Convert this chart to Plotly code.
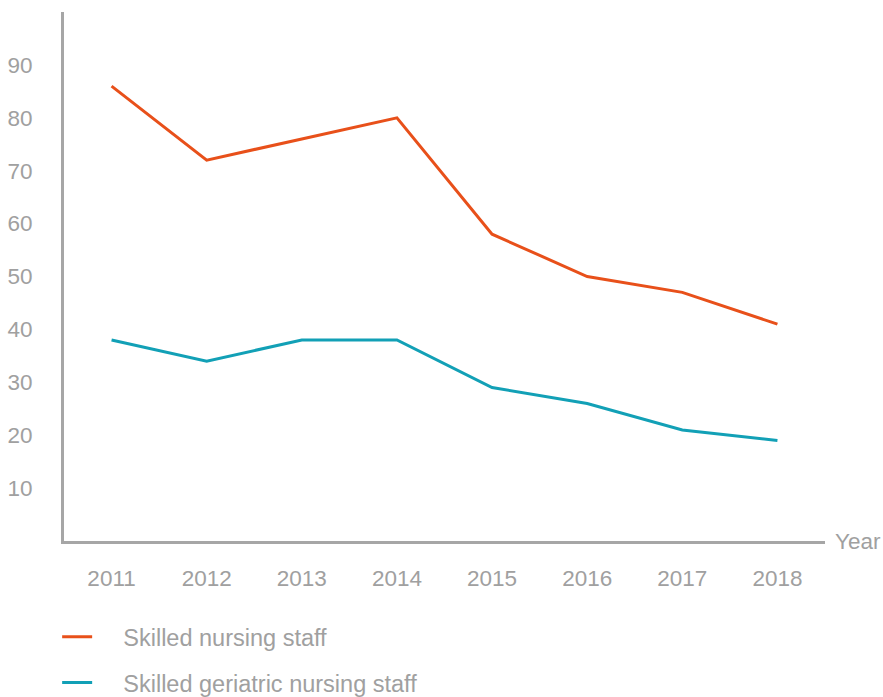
import plotly.graph_objects as go

years = ["2011", "2012", "2013", "2014", "2015", "2016", "2017", "2018"]
skilled_nursing = [86, 72, 76, 80, 58, 50, 47, 41]
skilled_geriatric = [38, 34, 38, 38, 29, 26, 21, 19]
y_ticks = [10, 20, 30, 40, 50, 60, 70, 80, 90]

GRAY = "#a0a0a0"
AXIS = "#a6a6a6"
FONT = "Liberation Sans, Arial, sans-serif"
FS = 22.5
LFS = 23.5

fig = go.Figure()
fig.add_trace(go.Scatter(x=years, y=skilled_nursing, mode="lines",
                         name="    Skilled nursing staff", legendgroup="a",
                         line=dict(color="#e8501a", width=3)))
fig.add_trace(go.Scatter(x=years, y=skilled_geriatric, mode="lines",
                         name="    Skilled geriatric nursing staff", legendgroup="b",
                         line=dict(color="#12a0b6", width=3)))

fig.update_layout(
    width=883, height=697,
    margin=dict(l=64, r=58, t=12, b=156, autoexpand=False),
    plot_bgcolor="white", paper_bgcolor="white",
    font=dict(family=FONT, size=FS, color=GRAY),
    showlegend=True,
    legend=dict(orientation="v", x=-0.009, xanchor="left", y=-0.140, yanchor="top",
                tracegroupgap=12, font=dict(size=LFS, color=GRAY),
                itemwidth=30, borderwidth=0),
    xaxis=dict(type="category", range=[-0.5, 7.5], showline=True, linecolor=AXIS,
               linewidth=3, showgrid=False, zeroline=False, ticks="",
               ticklabelstandoff=15, tickfont=dict(size=FS, color=GRAY)),
    yaxis=dict(range=[0, 100], showline=True, linecolor=AXIS, linewidth=3,
               showgrid=False, zeroline=False, ticks="", tickvals=y_ticks,
               ticklabelstandoff=24, tickfont=dict(size=FS, color=GRAY)),
    annotations=[dict(text="Year", xref="paper", yref="paper", x=1, y=0,
                      xanchor="left", yanchor="middle", xshift=8, showarrow=False,
                      font=dict(size=FS, color=GRAY))],
)

fig.write_html("out.html", config={"displayModeBar": False},
               post_script="document.body.style.margin='0';document.body.style.overflow='hidden';")
